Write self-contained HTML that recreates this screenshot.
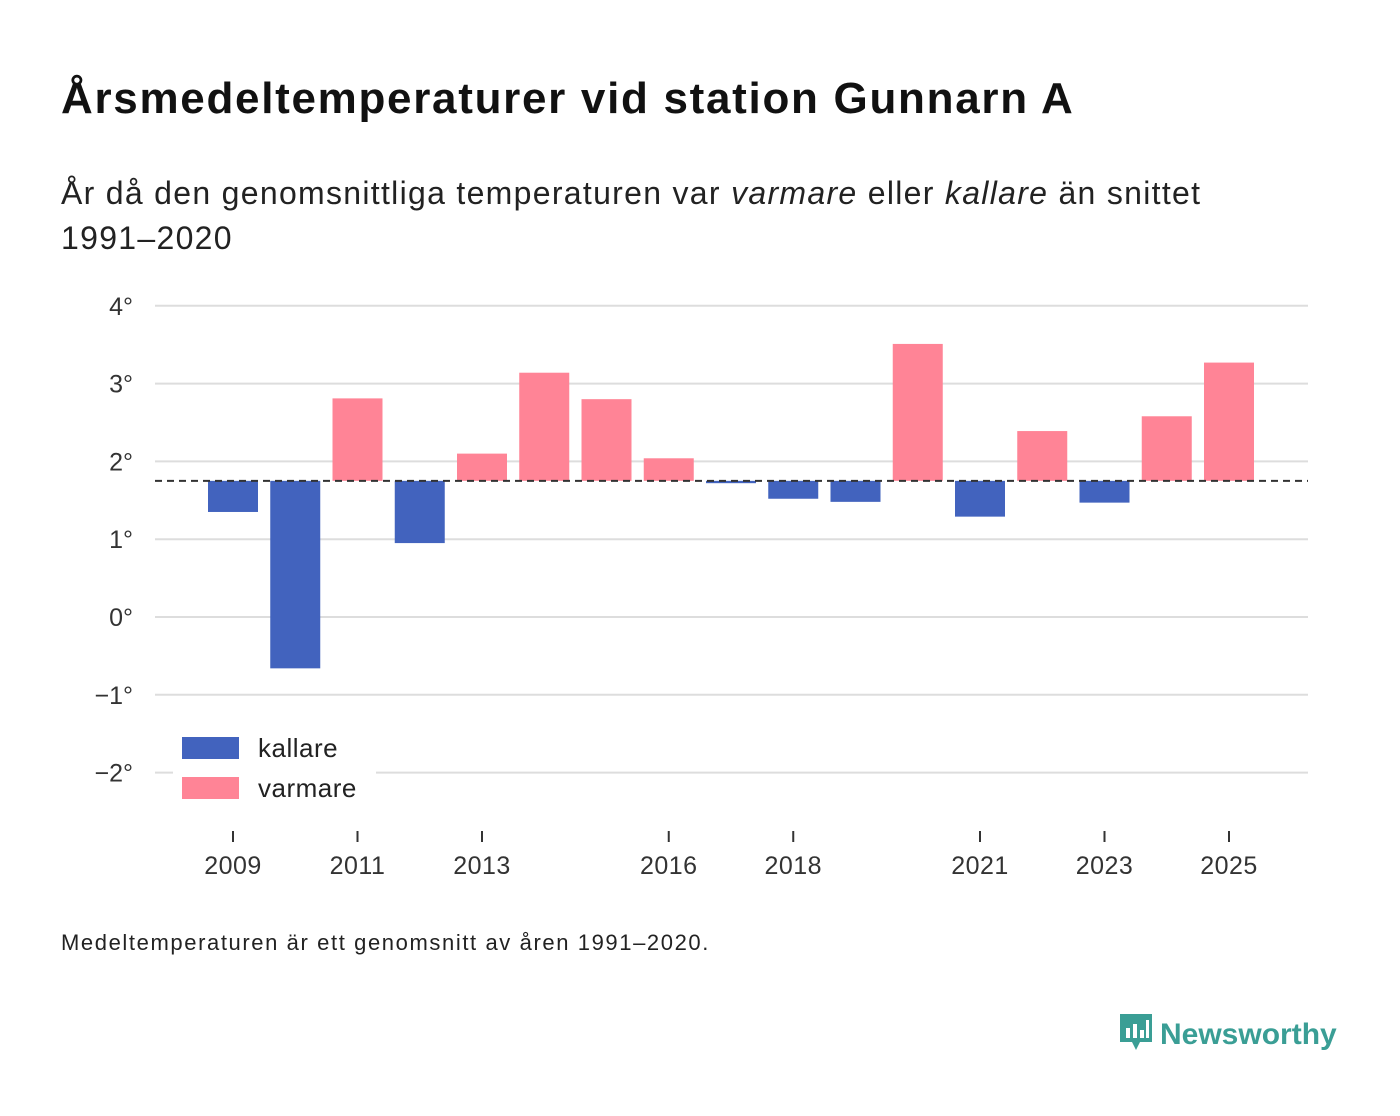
<!DOCTYPE html>
<html><head><meta charset="utf-8"><style>
body{margin:0;background:#fff;font-family:"Liberation Sans",sans-serif;}
#wrap{position:relative;width:1400px;height:1116px;overflow:hidden;}
h1{position:absolute;left:61px;top:74px;margin:0;font-size:44px;font-weight:bold;color:#111;letter-spacing:1.7px;}
.sub{position:absolute;left:61px;top:171px;margin:0;font-size:32px;line-height:45px;color:#222;letter-spacing:1.3px;}
.note{position:absolute;left:61px;top:930px;font-size:22px;color:#222;letter-spacing:1.6px;}
.logo{position:absolute;left:1118px;top:1012px;font-size:30px;font-weight:bold;color:#3a9e95;}
</style></head><body>
<div id="wrap">
<h1>Årsmedeltemperaturer vid station Gunnarn A</h1>
<p class="sub">År då den genomsnittliga temperaturen var <i>varmare</i> eller <i>kallare</i> än snittet<br>1991–2020</p>
<svg id="chart" width="1400" height="1116" style="position:absolute;left:0;top:0"></svg>
<div class="note">Medeltemperaturen är ett genomsnitt av åren 1991–2020.</div>
<div class="logo"><svg width="36" height="42" viewBox="0 0 36 42" style="vertical-align:-10px;margin-right:6px"><path d="M2 2h32v28H22l-4 8-4-8H2z" fill="#3a9e95"/><rect x="8" y="16" width="4" height="10" fill="#fff"/><rect x="15" y="12" width="4" height="14" fill="#fff"/><rect x="22" y="18" width="4" height="8" fill="#fff"/><rect x="28" y="8" width="3" height="18" fill="#fff"/></svg>Newsworthy</div>
</div>
<script>
const years=[2009,2010,2011,2012,2013,2014,2015,2016,2017,2018,2019,2020,2021,2022,2023,2024,2025];
const temps=[1.35,-0.66,2.81,0.95,2.1,3.14,2.8,2.04,1.72,1.52,1.48,3.51,1.29,2.39,1.47,2.58,3.27];
const baseline=1.75;
const yTicks=[4,3,2,1,0,-1,-2];
const xTicks=[2009,2011,2013,2016,2018,2021,2023,2025];
const NS="http://www.w3.org/2000/svg";
const svg=document.getElementById('chart');
const y=v=>617-v*77.8;
const x=yr=>233+(yr-2009)*62.25;
function mk(t,a){const e=document.createElementNS(NS,t);for(const k in a)e.setAttribute(k,a[k]);svg.appendChild(e);return e;}
yTicks.forEach(t=>{
  const l=mk('line',{x1:155,x2:1308,y1:y(t),y2:y(t),stroke:'#ddd','stroke-width':2});
  
  
  const tx=mk('text',{x:133,y:y(t)+9,'text-anchor':'end','font-size':25,fill:'#333','font-family':'Liberation Sans'});
  tx.textContent=(t<0?'−'+(-t):t)+'°';
  
  
});
years.forEach((yr,i)=>{
  const v=temps[i];const top=Math.min(y(v),y(baseline));const h=Math.abs(y(v)-y(baseline));
  const r=mk('rect',{x:x(yr)-25,y:top,width:50,height:Math.max(h,1),fill:v<baseline?'#4263be':'#ff8496'});
  
  
});
const bl=mk('line',{x1:155,x2:1308,y1:y(baseline),y2:y(baseline),stroke:'#333','stroke-width':2,'stroke-dasharray':'7,5'});


xTicks.forEach(yr=>{
  const l=mk('line',{x1:x(yr),x2:x(yr),y1:831,y2:842,stroke:'#333','stroke-width':2});
  
  
  const tx=mk('text',{x:x(yr),y:874,'text-anchor':'middle','font-size':25,fill:'#333','font-family':'Liberation Sans','letter-spacing':'0.5'});
  tx.textContent=yr;
  
  
});
const lg=mk('rect',{x:173,y:725,width:203,height:85,fill:'#fff'});


[['kallare','#4263be',737],['varmare','#ff8496',777]].forEach(([n,c,yy])=>{
  const r=mk('rect',{x:182,y:yy,width:57,height:22,fill:c});
  
  
  const t=mk('text',{x:258,y:yy+20,'font-size':26,fill:'#222','font-family':'Liberation Sans','letter-spacing':'0.5'});
  t.textContent=n;
  
  
});
</script>
</body></html>
